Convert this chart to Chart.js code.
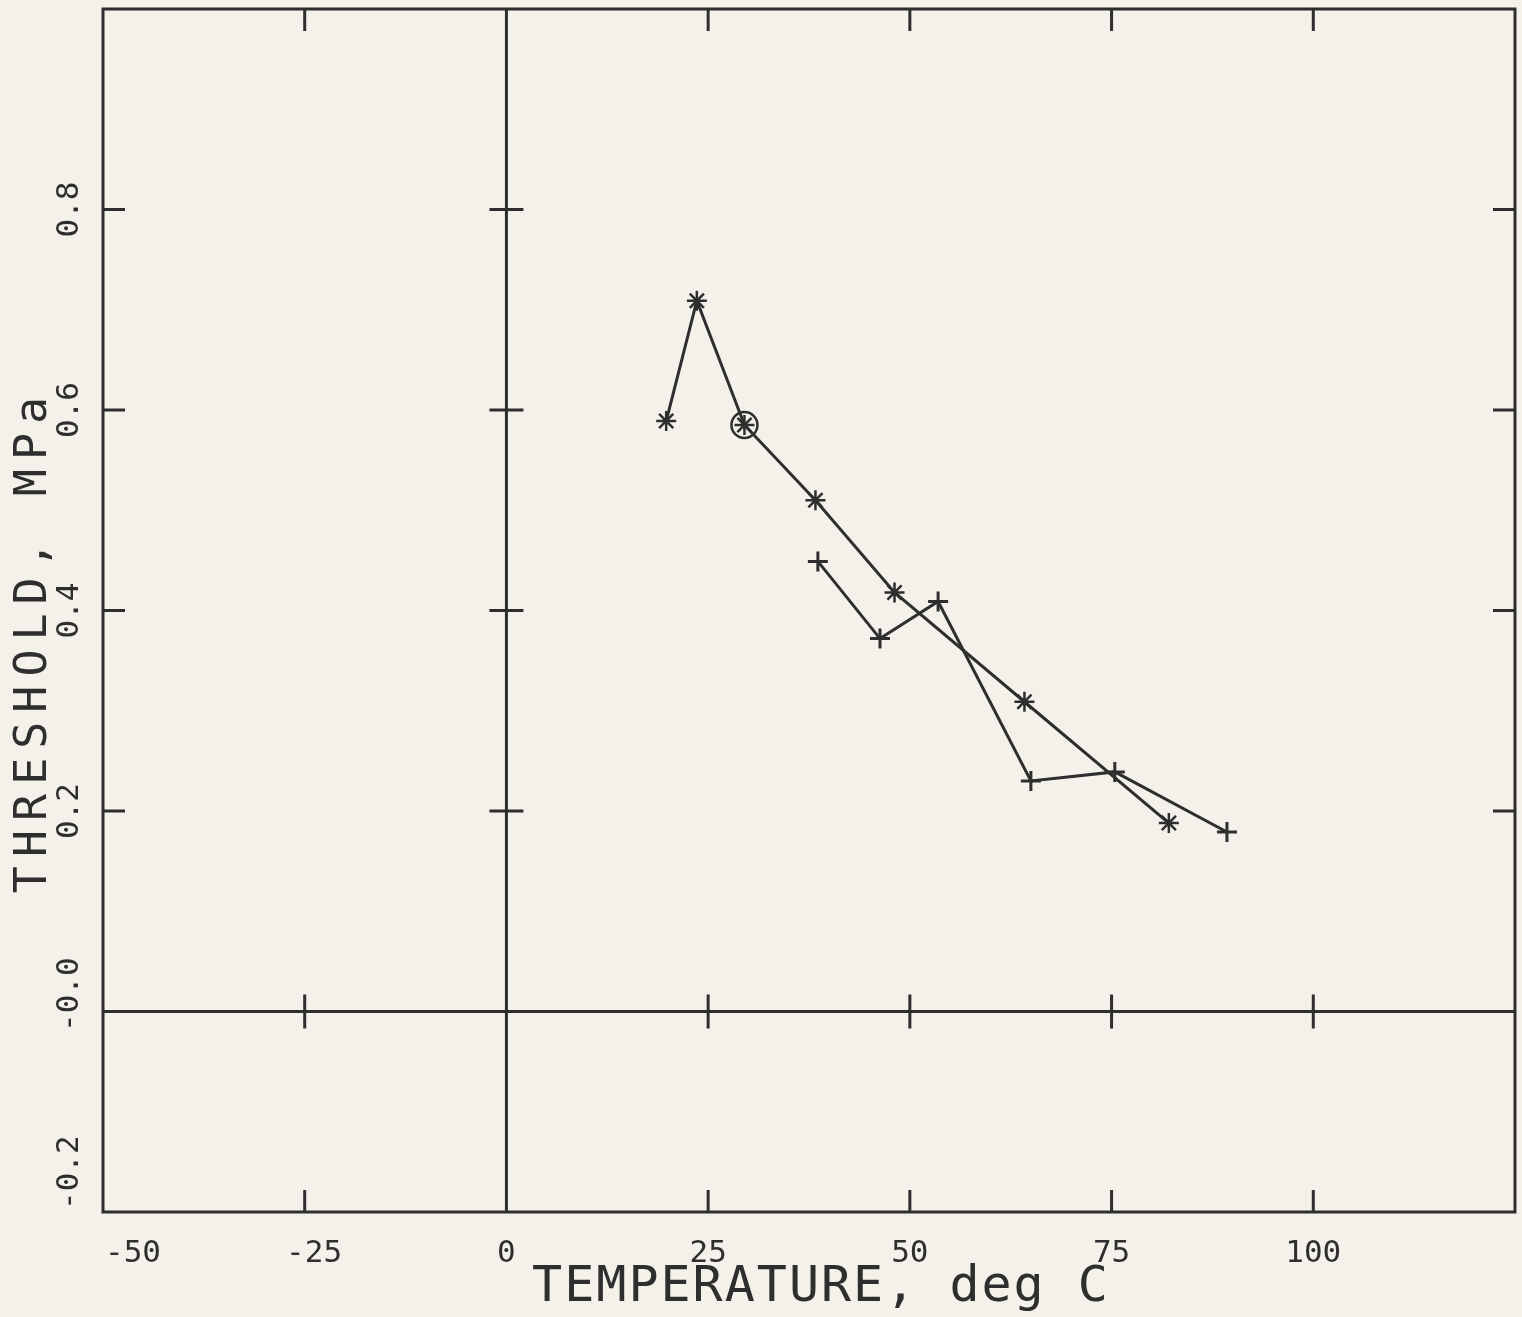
<!DOCTYPE html>
<html>
<head>
<meta charset="utf-8">
<script src="https://cdn.jsdelivr.net/npm/chart.js@4.4.1/dist/chart.umd.min.js"></script>
<style>
  html, body { margin: 0; padding: 0; background: #f4f1eb; }
  canvas { display: block; }
</style>
</head>
<body>
<canvas id="thresholdChart" width="1522" height="1317"></canvas>
<script>
// axis ticks and labels
var xTicks = [-50, -25, 0, 25, 50, 75, 100];
var xTickLabels = ['-50', '-25', '0', '25', '50', '75', '100'];
var yTicks = [-0.2, 0, 0.2, 0.4, 0.6, 0.8];
var yTickLabels = ['-0.2', '-0.0', '0.2', '0.4', '0.6', '0.8'];

// asterisk series
var starTemps = [19.8, 23.6, 29.5, 38.3, 48.1, 64.2, 82.1];
var starThresh = [0.589, 0.709, 0.585, 0.510, 0.418, 0.309, 0.188];

// plus series
var plusTemps = [38.6, 46.3, 53.5, 65.0, 75.4, 89.3];
var plusThresh = [0.449, 0.372, 0.409, 0.230, 0.239, 0.179];

// circled point
var circledTemps = [29.5];
var circledThresh = [0.585];

var ink = '#2e2e2e';
var monoFont = '"DejaVu Sans Mono", "Liberation Mono", monospace';

function toPoints(xs, ys) {
    return xs.map(function (x, i) { return { x: x, y: ys[i] }; });
}

// frame, axes through zero, ticks and text
var plotterAxes = {
    id: 'plotterAxes',
    beforeDatasetsDraw: function (chart) {
        var ctx = chart.ctx;
        var a = chart.chartArea;
        var xs = chart.scales.x;
        var ys = chart.scales.y;
        var tl = 22, ct = 17;
        var x0 = xs.getPixelForValue(0);
        var y0 = ys.getPixelForValue(0);

        ctx.save();
        ctx.strokeStyle = ink;
        ctx.lineWidth = 3;
        ctx.lineCap = 'butt';
        ctx.strokeRect(a.left, a.top, a.right - a.left, a.bottom - a.top);

        ctx.beginPath();
        ctx.moveTo(x0, a.top); ctx.lineTo(x0, a.bottom);
        ctx.moveTo(a.left, y0); ctx.lineTo(a.right, y0);
        ctx.stroke();

        ctx.beginPath();
        xTicks.forEach(function (v) {
            if (v === 0 || v === xs.min) return;
            var px = xs.getPixelForValue(v);
            ctx.moveTo(px, a.top); ctx.lineTo(px, a.top + tl);
            ctx.moveTo(px, a.bottom); ctx.lineTo(px, a.bottom - tl);
            ctx.moveTo(px, y0 - ct); ctx.lineTo(px, y0 + ct);
        });
        yTicks.forEach(function (v) {
            if (v === 0 || v === ys.min) return;
            var py = ys.getPixelForValue(v);
            ctx.moveTo(a.left, py); ctx.lineTo(a.left + tl, py);
            ctx.moveTo(a.right, py); ctx.lineTo(a.right - tl, py);
            ctx.moveTo(x0 - ct, py); ctx.lineTo(x0 + ct, py);
        });
        ctx.stroke();

        // x tick labels
        ctx.fillStyle = ink;
        ctx.font = '31px ' + monoFont;
        ctx.textBaseline = 'alphabetic';
        ctx.textAlign = 'left';
        var cw = ctx.measureText('0').width;
        xTicks.forEach(function (v, i) {
            var txt = xTickLabels[i];
            var w = ctx.measureText(txt).width;
            var cx = xs.getPixelForValue(v);
            if (txt.charAt(0) === '-') cx += cw * 0.5;
            var left = Math.max(cx - w / 2, a.left + 2);
            ctx.fillText(txt, left, a.bottom + 50);
        });

        // y tick labels, rotated
        yTicks.forEach(function (v, i) {
            var txt = yTickLabels[i];
            var w = ctx.measureText(txt).width;
            var cy = ys.getPixelForValue(v);
            if (txt.charAt(0) === '-') cy -= cw * 0.9;
            var start = Math.min(cy + w / 2, a.bottom - 2);
            ctx.save();
            ctx.translate(78, start);
            ctx.rotate(-Math.PI / 2);
            ctx.fillText(txt, 0, 0);
            ctx.restore();
        });

        // axis titles
        ctx.textAlign = 'center';
        ctx.font = '50px ' + monoFont;
        ctx.letterSpacing = '2px';
        ctx.fillText('TEMPERATURE, deg C', (a.left + a.right) / 2 + 12, a.bottom + 89);

        ctx.save();
        ctx.font = '45px ' + monoFont;
        ctx.letterSpacing = '9px';
        ctx.translate(46, (a.top + a.bottom) / 2 + 30);
        ctx.rotate(-Math.PI / 2);
        ctx.fillText('THRESHOLD, MPa', 0, 0);
        ctx.restore();

        ctx.restore();
    }
};

var ctx = document.getElementById('thresholdChart').getContext('2d');
var thresholdChart = new Chart(ctx, {
    type: 'scatter',
    data: {
        datasets: [{
            label: 'asterisk',
            data: toPoints(starTemps, starThresh),
            showLine: true,
            borderColor: ink,
            borderWidth: 3,
            pointStyle: 'star',
            pointRadius: 10,
            pointBorderWidth: 2.5,
            pointBorderColor: ink,
            pointBackgroundColor: ink,
            tension: 0
        }, {
            label: 'plus',
            data: toPoints(plusTemps, plusThresh),
            showLine: true,
            borderColor: ink,
            borderWidth: 3,
            pointStyle: 'cross',
            pointRadius: 10,
            pointBorderWidth: 3,
            pointBorderColor: ink,
            tension: 0
        }, {
            label: 'circled',
            data: toPoints(circledTemps, circledThresh),
            showLine: false,
            pointStyle: 'circle',
            pointRadius: 13,
            pointBorderWidth: 2.5,
            pointBorderColor: ink,
            pointBackgroundColor: 'rgba(0,0,0,0)'
        }]
    },
    options: {
        responsive: false,
        animation: false,
        layout: {
            autoPadding: false,
            padding: { left: 103, right: 7, top: 9, bottom: 105 }
        },
        scales: {
            x: { type: 'linear', min: -50, max: 125, display: false },
            y: { type: 'linear', min: -0.2, max: 1.0, display: false }
        },
        plugins: {
            legend: { display: false },
            tooltip: { enabled: false }
        }
    },
    plugins: [plotterAxes]
});
</script>
</body>
</html>
